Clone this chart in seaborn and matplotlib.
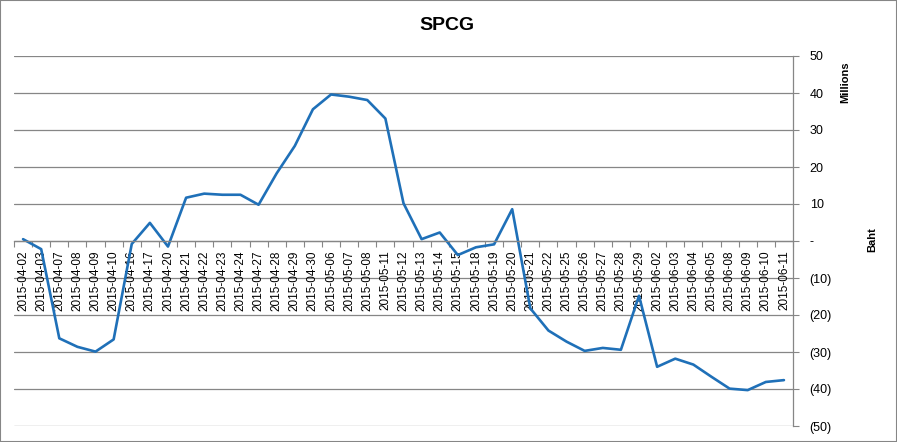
import matplotlib
matplotlib.use('Agg')
import matplotlib.pyplot as plt
import matplotlib.ticker as mticker
from matplotlib.patches import Rectangle
import numpy as np
import pandas as pd
import seaborn as sns

sns.set_style('white')
plt.rcParams['font.family'] = ['Liberation Sans', 'DejaVu Sans']

# data (millions of baht)
dates = ['2015-04-02', '2015-04-03', '2015-04-07', '2015-04-08', '2015-04-09', '2015-04-10',
         '2015-04-16', '2015-04-17', '2015-04-20', '2015-04-21', '2015-04-22', '2015-04-23',
         '2015-04-24', '2015-04-27', '2015-04-28', '2015-04-29', '2015-04-30', '2015-05-06',
         '2015-05-07', '2015-05-08', '2015-05-11', '2015-05-12', '2015-05-13', '2015-05-14',
         '2015-05-15', '2015-05-18', '2015-05-19', '2015-05-20', '2015-05-21', '2015-05-22',
         '2015-05-25', '2015-05-26', '2015-05-27', '2015-05-28', '2015-05-29', '2015-06-02',
         '2015-06-03', '2015-06-04', '2015-06-05', '2015-06-08', '2015-06-09', '2015-06-10',
         '2015-06-11']
values = [0.5, -2.2, -26.3, -28.6, -29.9, -26.6,
          -0.8, 4.9, -1.5, 11.7, 12.8, 12.5,
          12.5, 9.8, 18.3, 25.7, 35.6, 39.6,
          39.0, 38.1, 33.1, 10.2, 0.5, 2.3,
          -3.8, -1.7, -0.9, 8.6, -18.2, -24.2,
          -27.2, -29.7, -28.9, -29.4, -14.8, -34.0,
          -31.8, -33.4, -36.7, -39.9, -40.3, -38.1,
          -37.6]
y_ticks = [50, 40, 30, 20, 10, 0, -10, -20, -30, -40, -50]

df = pd.DataFrame({'date': dates, 'value': values})
df['pos'] = np.arange(len(df))

grey = '#868686'
fig = plt.figure(figsize=(8.97, 4.42), dpi=100)
ax = fig.add_axes([14/897, 1 - 426/442, (793 - 14)/897, (426 - 56)/442])

sns.lineplot(data=df, x='pos', y='value', ax=ax, color='#1f70b8', linewidth=1.9)

n = len(dates)
ax.set_xlim(-0.5, n - 0.5)
ax.set_ylim(-50, 50)
ax.set_yticks(y_ticks)
for v in y_ticks:
    ax.axhline(v, color=grey, linewidth=0.9, zorder=0)

def fmt(v, pos):
    if v == 0:
        return '-'
    if v < 0:
        return '({:d})'.format(int(abs(v)))
    return '{:d}'.format(int(v))

ax.yaxis.set_major_formatter(mticker.FuncFormatter(fmt))
ax.yaxis.tick_right()
ax.tick_params(axis='y', which='both', right=True, left=False, length=4, width=0.8,
               color=grey, labelsize=9, pad=8, labelcolor='black')

ax.spines['bottom'].set_position(('data', 0))
for s in ['left', 'top']:
    ax.spines[s].set_visible(False)
ax.spines['bottom'].set_color(grey)
ax.spines['right'].set_color(grey)
ax.spines['bottom'].set_linewidth(0.9)
ax.spines['right'].set_linewidth(0.9)

ax.set_xticks(np.arange(n))
ax.set_xticklabels(dates, rotation=90, fontsize=8.5, color='black')
ax.set_xticks(np.arange(n + 1) - 0.5, minor=True)
ax.tick_params(axis='x', which='major', length=0, pad=7, bottom=True)
ax.tick_params(axis='x', which='minor', length=4, width=0.8, color=grey, bottom=True)
ax.set_xlabel('')
ax.set_ylabel('')

fig.text(447/897, 1 - 25/442, 'SPCG', ha='center', va='center', fontsize=14,
         fontweight='bold', color='black')
fig.text(845/897, 1 - 82/442, 'Millions', ha='center', va='center', rotation=90,
         fontsize=8, fontweight='bold', color='black')
fig.text(872/897, 1 - 240/442, 'Baht', ha='center', va='center', rotation=90,
         fontsize=8, fontweight='bold', color='black')

fig.patches.append(Rectangle((0, 0), 1, 1, transform=fig.transFigure, fill=False,
                             edgecolor=grey, linewidth=1.5))

fig.savefig('out.png', dpi=100)
